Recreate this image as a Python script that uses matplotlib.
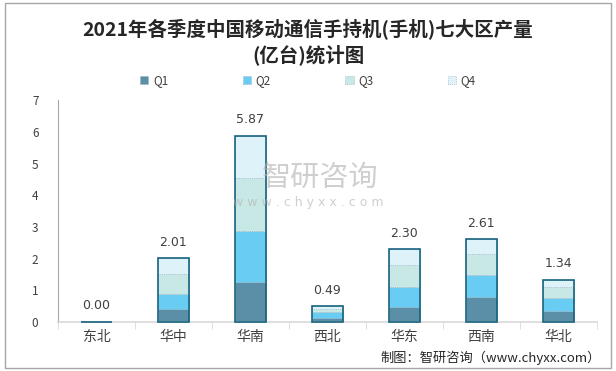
import matplotlib
matplotlib.use('Agg')
import matplotlib.pyplot as plt
import numpy as np
from matplotlib.patches import Rectangle

plt.rcParams['font.family'] = ['Noto Sans CJK SC', 'DejaVu Sans']

regions = ['东北', '华中', '华南', '西北', '华东', '西南', '华北']
q1 = [0.004, 0.40, 1.25, 0.12, 0.46, 0.78, 0.34]
q2 = [0.002, 0.50, 1.61, 0.20, 0.63, 0.69, 0.41]
q3 = [0.002, 0.60, 1.70, 0.10, 0.70, 0.67, 0.35]
q4 = [0.002, 0.51, 1.31, 0.07, 0.51, 0.47, 0.24]
totals = [0.00, 2.01, 5.87, 0.49, 2.30, 2.61, 1.34]
quarters = ['Q1', 'Q2', 'Q3', 'Q4']
colors = ['#5b8fa8', '#69cdf3', '#c8e8e6', '#def2fa']

fig = plt.figure(figsize=(6.16, 3.71), dpi=100)
fig.patches.append(Rectangle((0.008, 0.008), 0.984, 0.984, transform=fig.transFigure,
                             fill=False, edgecolor='#a6a6a6', linewidth=1))
ax = fig.add_axes([0.094, 0.132, 0.875, 0.598])

x = np.arange(len(regions))
width = 0.4
bottom = np.zeros(len(regions))
handles = []
for vals, c, name in zip([q1, q2, q3, q4], colors, quarters):
    vals = np.array(vals)
    b = ax.bar(x, vals, width, bottom=bottom, color=c, edgecolor='#8aa7b5',
               linewidth=0.5, linestyle=':', label=name)
    handles.append(b)
    bottom += vals
# outline of each whole bar
ax.bar(x, bottom, width, fill=False, edgecolor='#16627f', linewidth=1.2,
       zorder=3, clip_on=False)

for xi, t, top in zip(x, totals, bottom):
    ax.text(xi, top + 0.3, '%.2f' % t, ha='center', va='bottom', fontsize=9,
            color='#404040', family='DejaVu Sans')

ax.set_xlim(-0.5, len(regions) - 0.5)
ax.set_ylim(0, 7)
ax.set_yticks(range(8))
ax.tick_params(axis='y', length=0, labelsize=8.5, colors='#404040', pad=14)
ax.set_xticks(x)
ax.set_xticklabels(regions, fontsize=10, color='#404040')
ax.tick_params(axis='x', length=0, pad=6)
ax.set_xticks(np.arange(-0.5, len(regions), 1), minor=True)
ax.tick_params(axis='x', which='minor', length=5, color='#d9d9d9')
for s in ['top', 'right']:
    ax.spines[s].set_visible(False)
ax.spines['left'].set_color('#a6a6a6')
ax.spines['bottom'].set_color('#d9d9d9')
ax.spines['bottom'].set_linewidth(1.2)

# watermark
fig.text(0.52, 0.52, '智研咨询', ha='center', va='center', fontsize=21,
         color='#b0b0b0', alpha=0.6)
fig.text(0.5, 0.455, 'w w w . c h y x x . c o m', ha='center', va='center',
         fontsize=9, color='#b0b0b0', alpha=0.6, family='DejaVu Sans')

fig.text(0.5, 0.922, '2021年各季度中国移动通信手持机(手机)七大区产量', ha='center',
         va='center', fontsize=14, fontweight='bold', color='#262626')
fig.text(0.5, 0.852, '(亿台)统计图', ha='center', va='center', fontsize=14,
         fontweight='bold', color='#262626')

fig.legend(handles=handles, labels=quarters, loc='center', bbox_to_anchor=(0.5, 0.783),
           ncol=4, frameon=False, fontsize=8.5, handlelength=0.7, handleheight=0.7,
           columnspacing=6.3, handletextpad=0.4, labelcolor='#404040')

fig.text(0.975, 0.035, '制图：智研咨询（www.chyxx.com）', ha='right', va='center',
         fontsize=9.5, color='#262626')

fig.savefig('out.png', dpi=100)
